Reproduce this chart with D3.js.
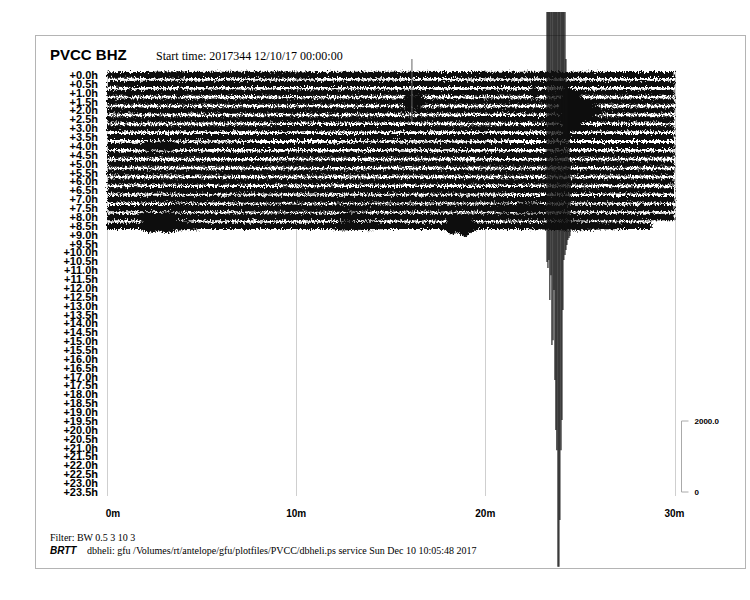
<!DOCTYPE html>
<html><head><meta charset="utf-8">
<script src="https://cdn.jsdelivr.net/npm/d3@7"></script>
<style>
html,body{margin:0;padding:0;background:#fff;}
svg{display:block;}
</style></head>
<body>
<svg id="chart" width="750" height="600"></svg>
<script>
// ---------- DATA ----------
const stationTitle = "PVCC BHZ";
const startTimeText = "Start time: 2017344 12/10/17 00:00:00";
const filterText = "Filter: BW 0.5 3 10 3";
const footerBrand = "BRTT";
const footerText = "dbheli: gfu /Volumes/rt/antelope/gfu/plotfiles/PVCC/dbheli.ps service Sun Dec 10 10:05:48 2017";

const rowLabels = ["+0.0h","+0.5h","+1.0h","+1.5h","+2.0h","+2.5h","+3.0h","+3.5h","+4.0h","+4.5h",
  "+5.0h","+5.5h","+6.0h","+6.5h","+7.0h","+7.5h","+8.0h","+8.5h","+9.0h","+9.5h",
  "+10.0h","+10.5h","+11.0h","+11.5h","+12.0h","+12.5h","+13.0h","+13.5h","+14.0h","+14.5h",
  "+15.0h","+15.5h","+16.0h","+16.5h","+17.0h","+17.5h","+18.0h","+18.5h","+19.0h","+19.5h",
  "+20.0h","+20.5h","+21.0h","+21.5h","+22.0h","+22.5h","+23.0h","+23.5h"];

const timeTicks = [0, 10, 20, 30];
const timeTickLabels = ["0m", "10m", "20m", "30m"];
const scaleTicks = [0, 2000];
const scaleTickLabels = ["0", "2000.0"];

// Envelope (half amplitude, counts) per 30-minute row: [minute, amplitude]
const row00 = [[0,80],[2,85],[3.8,105],[4.3,85],[7,90],[10.5,100],[11.2,85],[14,90],[18,85],[20,95],[24,90],[27,85],[30,85]];
const row01 = [[0,80],[3,90],[6,85],[9,90],[13,85],[17,90],[21,85],[25,90],[30,85]];
const row02 = [[0,85],[1.0,85],[1.2,130],[1.5,85],[3.6,85],[3.8,125],[4.1,85],[10,90],[16,85],[22.3,85],[22.6,160],[22.9,85],[30,85]];
const row03 = [[0,85],[8,90],[15.6,90],[15.9,190],[16.2,150],[16.5,170],[16.9,90],[30,85]];
const row04 = [[0,85],[10,90],[20,85],[23.9,90],[24.2,740],[24.6,600],[25.2,350],[25.9,120],[26.3,85],[30,85]];
const row05 = [[0,85],[5,90],[11,85],[18,90],[24,95],[27,85],[30,85]];
const row06 = [[0,85],[6,85],[12,90],[19,85],[25,90],[30,85]];
const row07 = [[0,85],[4,90],[9,85],[15,90],[22,85],[30,85]];
const row08 = [[0,85],[1.8,90],[2.2,145],[2.7,120],[3.3,140],[3.7,90],[9,85],[17,90],[24,85],[30,85]];
const row09 = [[0,85],[7,90],[14,85],[21,90],[30,85]];
const row10 = [[0,85],[5,85],[12,90],[20,85],[26,90],[30,85]];
const row11 = [[0,85],[8,90],[16,85],[23,90],[30,85]];
const row12 = [[0,85],[6,90],[13,85],[19,90],[27,85],[30,85]];
const row13 = [[0,90],[5,95],[10,90],[18,95],[24,90],[30,90]];
const row14 = [[0,90],[4,95],[12,100],[19,95],[25,90],[30,90]];
const row15 = [[0,90],[3.4,90],[3.8,130],[4.2,105],[4.6,120],[5,90],[12,100],[20.3,95],[21,130],[21.5,110],[22,140],[23,115],[23.5,95],[30,90]];
const row16 = [[0,90],[1.6,90],[2,140],[2.6,115],[3.4,135],[3.8,90],[9,95],[12.3,90],[12.8,125],[13.4,115],[13.8,90],[19,100],[30,90]];
const row17 = [[0,90],[1.7,90],[2.2,180],[2.7,150],[3.2,200],[3.6,140],[4.4,120],[5,90],[11.8,90],[12.5,130],[13.2,110],[14,125],[14.6,90],
               [17.8,90],[18.2,260],[18.5,180],[18.9,300],[19.4,130],[19.8,90],[23,100],[24.5,130],[26,100],[28.8,90]];
const rows = [row00,row01,row02,row03,row04,row05,row06,row07,row08,row09,row10,row11,row12,row13,row14,row15,row16,row17];

// Large teleseism on the +8.5h row: [minute, upward counts, downward counts]
const quakeRow = 17;
const quakeStrokes = [
  [23.26,6020,1020],[23.31,6020,1190],[23.36,6020,960],[23.41,6020,2090],[23.47,6020,1390],
  [23.52,6020,3360],[23.58,6020,3220],[23.63,6020,1810],[23.68,6020,4340],[23.73,6020,5750],
  [23.78,6020,6320],[23.84,6020,9600],[23.89,6020,9600],[23.94,6020,8290],[24.00,6020,6320],
  [24.05,6020,5470],[24.10,6020,2370],[24.15,6020,960],[24.21,6020,820],[24.26,4700,680],
  [24.31,4000,540],[24.36,3200,400],[24.42,2500,340],[24.47,1800,290]];

// Isolated glitch spike on the +1.5h row: [row, minute, up, down]
const spikes = [[3, 16.12, 1200, 580]];

// ---------- DRAW ----------
const svg = d3.select("#chart");
const defs = svg.append("defs");
const flt = defs.append("filter").attr("id","rough")
  .attr("x","-2%").attr("y","-10%").attr("width","104%").attr("height","120%");
flt.append("feTurbulence").attr("type","fractalNoise").attr("baseFrequency","1.3 0.45")
  .attr("numOctaves",2).attr("seed",7).attr("result","n");
flt.append("feDisplacementMap").attr("in","SourceGraphic").attr("in2","n")
  .attr("scale",7).attr("xChannelSelector","R").attr("yChannelSelector","G");

const x = d3.scaleLinear().domain([0, 30]).range([107, 674.5]);
const yRow = d3.scaleLinear().domain([0, 47]).range([75, 492]);
const amp = d3.scaleLinear().domain([0, 2000]).range([0, 71]);

// frame
svg.append("rect").attr("x",35.5).attr("y",35.5).attr("width",710).attr("height",533)
  .attr("fill","none").attr("stroke","#b4b4b4").attr("stroke-width",1);

// gridlines
svg.append("g").selectAll("line").data(timeTicks).join("line")
  .attr("x1", d => Math.round(x(d)) + 0.5).attr("x2", d => Math.round(x(d)) + 0.5)
  .attr("y1", 70).attr("y2", 496)
  .attr("stroke", "#cfcfcf").attr("stroke-width", 1);

// title
svg.append("text").attr("x",50).attr("y",60).text(stationTitle)
  .attr("font-family","Liberation Sans, Arial, sans-serif").attr("font-weight","bold").attr("font-size",15);
svg.append("text").attr("x",156).attr("y",60).text(startTimeText)
  .attr("font-family","Liberation Serif, Times New Roman, serif").attr("font-size",12);

// row labels
svg.append("g").selectAll("text").data(rowLabels).join("text")
  .attr("x", 98).attr("y", (d,i) => yRow(i)).attr("dy","0.36em")
  .attr("text-anchor","end")
  .attr("font-family","Liberation Sans, Arial, sans-serif").attr("font-weight","bold").attr("font-size",11)
  .text(d => d);

// trace bands
const clip = defs.append("clipPath").attr("id","frameClip");
clip.append("rect").attr("x",0).attr("y",0).attr("width",750).attr("height",568);

const bands = svg.append("g").attr("filter","url(#rough)");
rows.forEach((r, i) => {
  const c = yRow(i);
  const area = d3.area()
    .x(d => x(d[0]))
    .y0(d => c + amp(d[1]))
    .y1(d => c - amp(d[1]))
    .curve(d3.curveMonotoneX);
  bands.append("path").datum(r).attr("d", area).attr("fill", "#0a0a0a");
});

// spikes
svg.append("g").selectAll("line").data(spikes).join("line")
  .attr("x1", d => x(d[1])).attr("x2", d => x(d[1]))
  .attr("y1", d => yRow(d[0]) - amp(d[2])).attr("y2", d => yRow(d[0]) + amp(d[3]))
  .attr("stroke", "#666").attr("stroke-width", 1);

// quake
const qc = yRow(quakeRow);
svg.append("g").attr("clip-path","url(#frameClip)")
  .selectAll("line").data(quakeStrokes).join("line")
  .attr("x1", d => x(d[0])).attr("x2", d => x(d[0]))
  .attr("y1", d => qc - amp(d[1])).attr("y2", d => qc + amp(d[2]))
  .attr("stroke", "#111").attr("stroke-width", 1.3).attr("stroke-opacity", 0.85);

// time axis labels
svg.append("g").selectAll("text").data(timeTicks).join("text")
  .attr("x", (d,i) => i === 0 ? x(d) + 6 : x(d)).attr("y", 517)
  .attr("text-anchor","middle")
  .attr("font-family","Liberation Sans, Arial, sans-serif").attr("font-weight","bold").attr("font-size",10)
  .text((d,i) => timeTickLabels[i]);

// amplitude scale bar
const sbX = 681.5, sbBase = yRow(47);
const sb = svg.append("g");
sb.append("path")
  .attr("d", `M${sbX+7},${sbBase - amp(scaleTicks[1])}H${sbX}V${sbBase - amp(scaleTicks[0])}H${sbX+7}`)
  .attr("fill","none").attr("stroke","#aaa").attr("stroke-width",1);
sb.selectAll("text").data(scaleTicks).join("text")
  .attr("x", sbX + 13).attr("y", d => sbBase - amp(d)).attr("dy","0.35em")
  .attr("font-family","Liberation Sans, Arial, sans-serif").attr("font-weight","bold").attr("font-size",8)
  .text((d,i) => scaleTickLabels[i]);

// footer
svg.append("text").attr("x",50).attr("y",541).text(filterText)
  .attr("font-family","Liberation Serif, Times New Roman, serif").attr("font-size",10);
svg.append("text").attr("x",50).attr("y",554).text(footerBrand)
  .attr("font-family","Liberation Sans, Arial, sans-serif").attr("font-weight","bold")
  .attr("font-style","italic").attr("font-size",10);
svg.append("text").attr("x",87).attr("y",554).text(footerText)
  .attr("font-family","Liberation Serif, Times New Roman, serif").attr("font-size",10);
</script>
</body></html>
